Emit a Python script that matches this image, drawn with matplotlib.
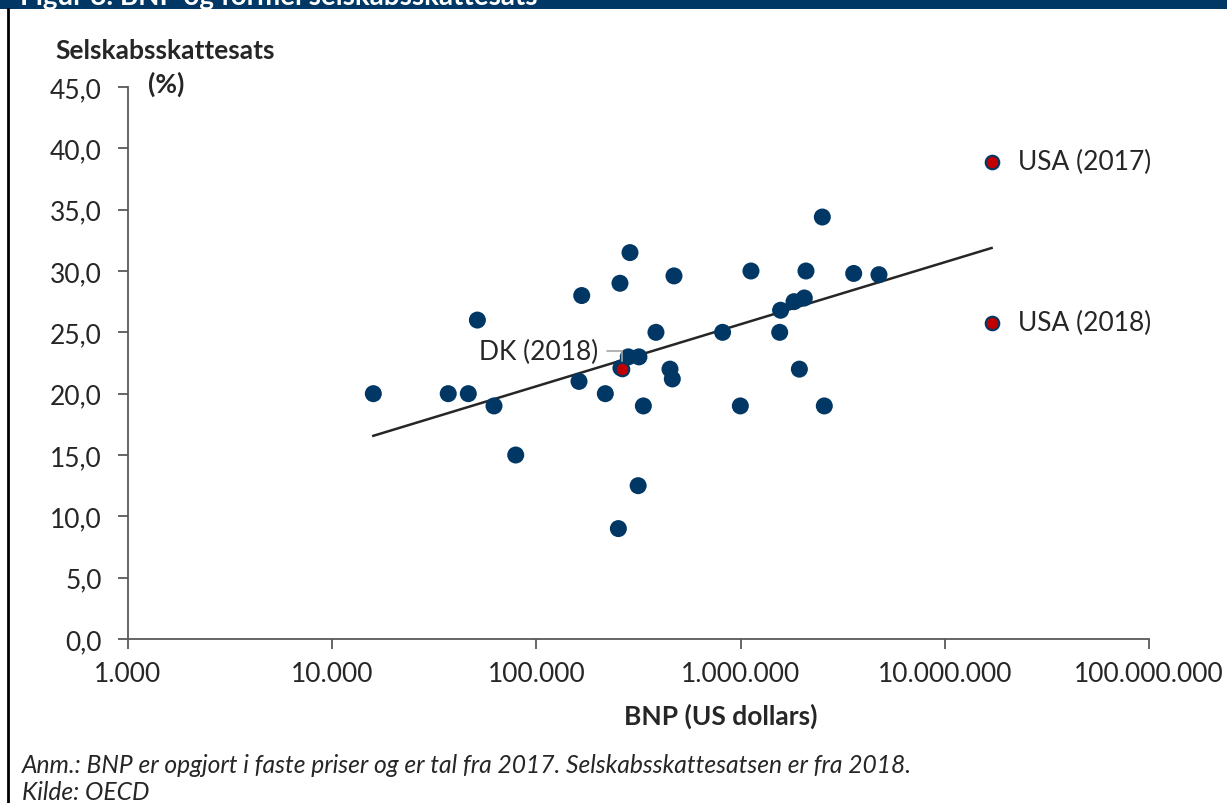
import numpy as np
import matplotlib
matplotlib.use("Agg")
import matplotlib.pyplot as plt
from matplotlib.ticker import FuncFormatter, FixedLocator
from matplotlib.lines import Line2D
from matplotlib.patches import Rectangle

plt.rcParams['font.family'] = ['Lato', 'DejaVu Sans']

# BNP (US dollars, mio.) og selskabsskattesats (%) for OECD-lande, 2018
bnp = [15900, 37000, 46400, 51400, 62000, 79200, 161700, 166700, 217500,
       252000, 256600, 281900, 287300, 315000, 317800, 334000, 385000,
       451000, 463000, 471800, 816000, 997000, 1124000, 1554000, 1570000,
       1826000, 1940000, 2051000, 2090000, 2513000, 2570000, 3580000, 4760000]
sats = [20.0, 20.0, 20.0, 26.0, 19.0, 15.0, 21.0, 28.0, 20.0,
        9.0, 29.0, 23.0, 31.5, 12.5, 23.0, 19.0, 25.0,
        22.0, 21.2, 29.6, 25.0, 19.0, 30.0, 25.0, 26.8,
        27.5, 22.0, 27.8, 30.0, 34.4, 19.0, 29.8, 29.7]

dk_bnp, dk_sats = 263400, 22.0
usa_bnp = 16950000
usa_sats_2017 = 38.9
usa_sats_2018 = 25.8

y_ticks = [0, 5, 10, 15, 20, 25, 30, 35, 40, 45]
x_ticks = [1e3, 1e4, 1e5, 1e6, 1e7, 1e8]

navy = '#003764'
red = '#C00000'
grey = '#595959'
txt = '#262626'

fig = plt.figure(figsize=(12.27, 8.04), dpi=100)
ax = fig.add_axes([128 / 1227, 1 - 640 / 804, (1149 - 128) / 1227, (640 - 88) / 804])

# trendlinje (alle lande, USA med 2017-sats)
all_x = np.array(bnp + [dk_bnp, usa_bnp])
all_y = np.array(sats + [dk_sats, usa_sats_2017])
k, m = np.polyfit(np.log10(all_x), all_y, 1)
tx = np.array([all_x.min(), all_x.max()])
ax.plot(tx, k * np.log10(tx) + m, color='#262626', lw=1.8, zorder=2)

ax.scatter(bnp, sats, s=150, color=navy, edgecolors='none', zorder=3)
ax.scatter([dk_bnp - 4000], [dk_sats + 0.1], s=150, color=navy, edgecolors='none', zorder=3)
ax.scatter([dk_bnp, usa_bnp, usa_bnp], [dk_sats, usa_sats_2017, usa_sats_2018],
           s=95, color=red, edgecolors=navy, linewidths=1.5, zorder=4)

ax.annotate('DK (2018)', xy=(dk_bnp, dk_sats), xytext=(-17, 13), textcoords='offset points',
            ha='right', va='center', fontsize=19, color=txt,
            arrowprops=dict(arrowstyle='-', color='#A6A6A6', lw=1.2,
                            connectionstyle='angle,angleA=0,angleB=90,rad=0',
                            shrinkA=4, shrinkB=5))
ax.annotate('USA (2017)', xy=(usa_bnp, usa_sats_2017), xytext=(19, 0), textcoords='offset points',
            ha='left', va='center', fontsize=19, color=txt)
ax.annotate('USA (2018)', xy=(usa_bnp, usa_sats_2018), xytext=(19, 0), textcoords='offset points',
            ha='left', va='center', fontsize=19, color=txt)

ax.set_xscale('log')
ax.set_xlim(1e3, 1e8)
ax.set_ylim(0, 45)
ax.xaxis.set_major_locator(FixedLocator(x_ticks))
ax.xaxis.set_minor_locator(FixedLocator([]))
ax.set_yticks(y_ticks)
ax.xaxis.set_major_formatter(FuncFormatter(lambda v, p: f"{int(round(v)):,}".replace(',', '.')))
ax.yaxis.set_major_formatter(FuncFormatter(lambda v, p: f"{v:.1f}".replace('.', ',')))

for s in ['top', 'right']:
    ax.spines[s].set_visible(False)
for s in ['left', 'bottom']:
    ax.spines[s].set_color(grey)
    ax.spines[s].set_linewidth(1.3)
ax.tick_params(axis='both', colors=grey, width=1.3, length=7, labelsize=19, labelcolor=txt)
ax.tick_params(axis='x', pad=9)
ax.tick_params(axis='y', pad=12)

# aksetitler
fig.text(55 / 1227, 1 - 51 / 804, 'Selskabsskattesats', fontsize=19, fontweight='bold',
         color=txt, ha='left', va='center')
fig.text(148 / 1227, 1 - 84 / 804, '(%)', fontsize=19, fontweight='bold',
         color=txt, ha='left', va='center')
fig.text(721 / 1227, 1 - 716 / 804, 'BNP (US dollars)', fontsize=19, fontweight='bold',
         color=txt, ha='center', va='center')

# noter
fig.text(22 / 1227, 1 - 766 / 804,
         'Anm.: BNP er opgjort i faste priser og er tal fra 2017. Selskabsskattesatsen er fra 2018.',
         fontsize=17.7, style='italic', color=txt, ha='left', va='center')
fig.text(22 / 1227, 1 - 793 / 804, 'Kilde: OECD', fontsize=17.7, style='italic',
         color=txt, ha='left', va='center')

# banner og ramme
fig.patches.append(Rectangle((0, 1 - 10 / 804), 1, 10 / 804, transform=fig.transFigure,
                             facecolor=navy, edgecolor='none', zorder=0))
fig.text(20 / 1227, 1 - 5 / 804, 'Figur 8. BNP og formel selskabsskattesats', fontsize=20,
         fontweight='bold', color='white', ha='left', va='baseline')
fig.lines.append(Line2D([8 / 1227, 8 / 1227], [0, 1 - 10 / 804], transform=fig.transFigure,
                        color='black', lw=2))

fig.savefig('out.png', dpi=100)
